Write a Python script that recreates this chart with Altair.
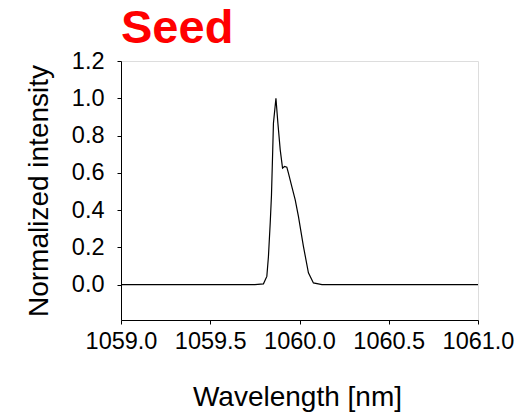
import altair as alt
import pandas as pd

wavelength = [1059.0, 1059.5, 1059.75, 1059.798, 1059.817, 1059.826, 1059.836, 1059.843,
              1059.849, 1059.854, 1059.868, 1059.879, 1059.892, 1059.905, 1059.916,
              1059.929, 1059.938, 1059.957, 1059.976, 1059.994, 1060.022, 1060.050,
              1060.078, 1060.126, 1060.5, 1061.0]
intensity = [0.0, 0.0, 0.0, 0.004, 0.044, 0.151, 0.332, 0.48,
             0.687, 0.866, 1.0, 0.866, 0.723, 0.625, 0.634,
             0.630, 0.598, 0.526, 0.455, 0.366, 0.205, 0.063,
             0.009, 0.0, 0.0, 0.0]

x_ticks = [1059.0, 1059.5, 1060.0, 1060.5, 1061.0]
y_ticks = [0.0, 0.2, 0.4, 0.6, 0.8, 1.0, 1.2]

df = pd.DataFrame({"wl": wavelength, "I": intensity})

FONT = "Liberation Sans"

chart = alt.Chart(df).mark_line(color="black", strokeWidth=1.2).encode(
    x=alt.X("wl:Q",
            scale=alt.Scale(domain=[1059.0, 1061.0], nice=False, zero=False),
            axis=alt.Axis(values=x_ticks, format=".1f", title="Wavelength [nm]",
                          grid=False, domainColor="black", tickColor="black",
                          tickSize=4, labelPadding=5, labelFontSize=23.5,
                          labelFont=FONT, labelColor="black",
                          labelOverlap=False, labelFlush=False, labelBound=False,
                          titleFont=FONT, titleFontSize=28, titleFontWeight="normal",
                          titleColor="black", titleX=176, titleY=77,
                          titleBaseline="middle")),
    y=alt.Y("I:Q",
            scale=alt.Scale(domain=[-0.19, 1.2], nice=False, zero=False),
            axis=alt.Axis(values=y_ticks, format=".1f", title="Normalized intensity",
                          grid=False, domainColor="black", tickColor="black",
                          tickSize=4, labelPadding=13, labelFontSize=23.5,
                          labelFont=FONT, labelColor="black",
                          labelOverlap=False, labelFlush=False, labelBound=False,
                          titleFont=FONT, titleFontSize=28, titleFontWeight="normal",
                          titleColor="black", titleX=-82, titleY=129.5,
                          titleBaseline="middle")),
).properties(
    width=357,
    height=259,
    title=alt.TitleParams("Seed", anchor="start", color="#FF0000", fontSize=47,
                          font=FONT, fontWeight="bold", baseline="alphabetic",
                          offset=15, dy=56, frame="group"),
    autosize=alt.AutoSizeParams(type="none"),
    padding={"left": 121, "top": 61, "right": 46, "bottom": 92},
).configure_view(
    stroke="#888888", strokeWidth=1.5
).configure(background="white")

chart.save("out.html", embed_options={"renderer": "svg", "actions": False})
